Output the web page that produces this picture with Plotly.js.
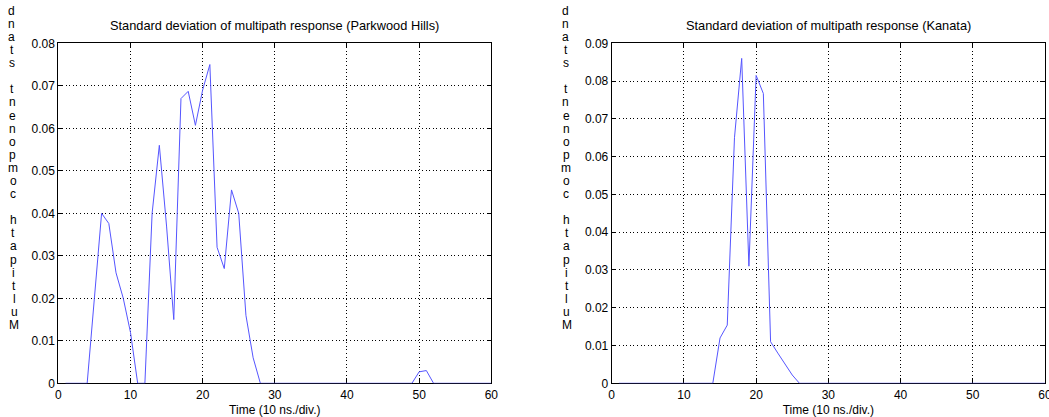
<!DOCTYPE html>
<html><head><meta charset="utf-8">
<script src="https://cdn.plot.ly/plotly-3.0.1.min.js"></script>
<style>body{margin:0;background:#fff}#chart{width:1049px;height:417px}</style>
</head><body><div id="chart"></div>
<script>
// Sample index (x axis, 10 ns per division)
const time = [1,2,3,4,5,6,7,8,9,10,11,12,13,14,15,16,17,18,19,20,
  21,22,23,24,25,26,27,28,29,30,31,32,33,34,35,36,37,38,39,40,
  41,42,43,44,45,46,47,48,49,50,51,52,53,54,55,56,57,58,59,60];

// Standard deviation of multipath response, Parkwood Hills
const parkwoodStd = [0,0,0,0,0.020,0.040,0.0376,0.026,0.020,0.012,
  0,0,0.040,0.056,0.037,0.015,0.067,0.0687,0.0607,0.069,
  0.075,0.032,0.027,0.0455,0.040,0.016,0.006,0,0,0,
  0,0,0,0,0,0,0,0,0,0,
  0,0,0,0,0,0,0,0,0,0.0027,
  0.003,0,0,0,0,0,0,0,0,0];

// Standard deviation of multipath response, Kanata
const kanataStd = [0,0,0,0,0,0,0,0,0,0,
  0,0,0,0,0.012,0.0154,0.065,0.086,0.031,0.0815,
  0.0767,0.011,0.008,0.005,0.0022,0,0,0,0,0,
  0,0,0,0,0,0,0,0,0,0,
  0,0,0,0,0,0,0,0,0,0,
  0,0,0,0,0,0,0,0,0,0];

const xTicks = [0,10,20,30,40,50,60];
const yTicksLeft = [0,0.01,0.02,0.03,0.04,0.05,0.06,0.07,0.08];
const yTicksRight = [0,0.01,0.02,0.03,0.04,0.05,0.06,0.07,0.08,0.09];

const plotTitles = ["Standard deviation of multipath response (Parkwood Hills)",
                    "Standard deviation of multipath response (Kanata)"];
const xTitle = "Time (10 ns./div.)";
const yLabel = "Multipath component stand"; // drawn as upright stacked letters

const W = 1049, H = 417;
const FONT = "Liberation Sans, Arial, Helvetica, sans-serif";
const px2x = p => p / W;
const px2y = p => (H - p) / H;

const plotTop = 43.3, plotBottom = 383.3;
const leftDom = [px2x(58.3), px2x(491.3)];
const rightDom = [px2x(611.7), px2x(1045)];
const yDom = [px2y(plotBottom), px2y(plotTop)];
const GRID_DASH = '1px,2.6px';

function xAxis(dom, anchor) {
  return {
    domain: dom, anchor: anchor, range: [0, 60], tickvals: xTicks,
    ticks: 'inside', ticklen: 4, tickcolor: '#000', tickwidth: 1,
    showline: true, linecolor: '#000', linewidth: 1, mirror: 'ticks',
    showgrid: true, gridcolor: '#000', griddash: GRID_DASH, gridwidth: 1,
    zeroline: false, layer: 'below traces', ticklabeloverflow: 'allow',
    tickfont: {family: FONT, size: 12, color: '#000'},
    title: {text: xTitle, font: {family: FONT, size: 12, color: '#000'}, standoff: 4},
    fixedrange: true
  };
}
function yAxis(dom, anchor, rng, ticks) {
  return {
    domain: dom, anchor: anchor, range: rng, tickvals: ticks,
    ticktext: ticks.map(v => v === 0 ? '0' : v.toFixed(2)),
    ticks: 'inside', ticklen: 4, tickcolor: '#000', tickwidth: 1,
    showline: true, linecolor: '#000', linewidth: 1, mirror: 'ticks',
    showgrid: true, gridcolor: '#000', griddash: GRID_DASH, gridwidth: 1,
    zeroline: false, layer: 'below traces', ticklabeloverflow: 'allow',
    tickfont: {family: FONT, size: 12, color: '#000'},
    fixedrange: true
  };
}

const traces = [
  {x: time, y: parkwoodStd, xaxis: 'x', yaxis: 'y', type: 'scatter', mode: 'lines',
   line: {color: '#5555ff', width: 1}, hoverinfo: 'none'},
  {x: time, y: kanataStd, xaxis: 'x2', yaxis: 'y2', type: 'scatter', mode: 'lines',
   line: {color: '#5555ff', width: 1}, hoverinfo: 'none'}
];

const annotations = [];
// subplot titles
[[leftDom, plotTitles[0]], [rightDom, plotTitles[1]]].forEach(([d, t]) => {
  annotations.push({xref: 'paper', yref: 'paper', x: (d[0] + d[1]) / 2, y: px2y(26),
    xanchor: 'center', yanchor: 'middle', showarrow: false, text: t,
    font: {family: FONT, size: 12.8, color: '#000'}});
});
// stacked vertical y labels (letters upright, reading bottom to top)
const step = 13.09;
[[11.5, 14.3], [565.5, 567]].forEach(([xTop, xBot]) => {
  const n = yLabel.length;
  for (let k = 0; k < n; k++) {
    const ch = yLabel[k];
    if (ch === ' ') continue;
    const yc = 325 - step * k;
    const xc = xBot + (xTop - xBot) * k / (n - 1);
    annotations.push({xref: 'paper', yref: 'paper', x: px2x(xc), y: px2y(yc),
      xanchor: 'center', yanchor: 'middle', showarrow: false, text: ch,
      font: {family: FONT, size: 12, color: '#000'}});
  }
});

const layout = {
  width: W, height: H, margin: {l: 0, r: 0, t: 0, b: 0},
  paper_bgcolor: '#fff', plot_bgcolor: '#fff', showlegend: false,
  xaxis: xAxis(leftDom, 'y'),
  yaxis: yAxis(yDom, 'x', [0, 0.08], yTicksLeft),
  xaxis2: xAxis(rightDom, 'y2'),
  yaxis2: yAxis(yDom, 'x2', [0, 0.09], yTicksRight),
  annotations: annotations
};

Plotly.newPlot('chart', traces, layout, {staticPlot: true, displayModeBar: false});
</script>
</body></html>
